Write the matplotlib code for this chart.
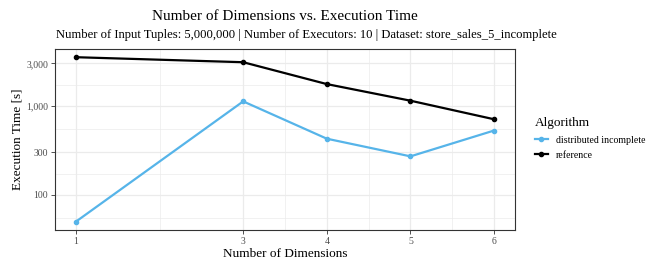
import matplotlib
matplotlib.use("Agg")
import matplotlib.pyplot as plt
from matplotlib.ticker import FixedLocator, NullFormatter
import numpy as np

plt.rcParams['font.family'] = ['Liberation Serif', 'DejaVu Serif']

# data
dims = [1, 3, 4, 5, 6]
reference = [3530, 3100, 1760, 1145, 708]
distributed_incomplete = [50, 1125, 428, 271, 529]

y_breaks = [100, 300, 1000, 3000]
y_labels = ["100", "300", "1,000", "3,000"]
y_minor = [10 ** 1.7386, 10 ** 2.2386, 10 ** 2.7386, 10 ** 3.2386, 10 ** 3.7386]
x_minor = [2, 3.5, 4.5, 5.5]

W, H = 656, 260
fig = plt.figure(figsize=(W / 100, H / 100), dpi=100)
ax = fig.add_axes([55 / W, 1 - 230 / H, 460 / W, 181 / H])

ax.set_yscale('log')
ax.set_xlim(0.75, 6.25)
ax.set_ylim(10 ** 1.605, 10 ** 3.64)

grid_col = '#EBEBEB'
ax.set_xticks(dims)
ax.set_xticklabels([str(d) for d in dims])
ax.xaxis.set_minor_locator(FixedLocator(x_minor))
ax.yaxis.set_major_locator(FixedLocator(y_breaks))
ax.yaxis.set_minor_locator(FixedLocator(y_minor))
ax.set_yticklabels(y_labels)
ax.yaxis.set_minor_formatter(NullFormatter())
ax.grid(which='major', color=grid_col, linewidth=0.9, zorder=0)
ax.grid(which='minor', color=grid_col, linewidth=0.5, zorder=0)
ax.set_axisbelow(True)

ax.plot(dims, distributed_incomplete, color='#56B4E9', linewidth=1.6,
        marker='o', markersize=3, label='distributed incomplete', zorder=3)
ax.plot(dims, reference, color='black', linewidth=1.6,
        marker='o', markersize=3, label='reference', zorder=3)

for s in ax.spines.values():
    s.set_color('#333333')
    s.set_linewidth(0.8)
ax.tick_params(which='major', length=3, width=0.6, color='#333333',
               labelsize=7, labelcolor='#4D4D4D', pad=2)
ax.tick_params(which='minor', length=0)

ax.set_xlabel('Number of Dimensions', fontsize=9.5, labelpad=1.5)
ax.set_ylabel('Execution Time [s]', fontsize=9.5)
ax.yaxis.set_label_coords(-0.069, 0.5)

fig.text(285 / W, 1 - 16 / H, 'Number of Dimensions vs. Execution Time',
         ha='center', va='center', fontsize=11)
fig.text(55.5 / W, 1 - 35 / H,
         'Number of Input Tuples: 5,000,000 | Number of Executors: 10 | '
         'Dataset: store_sales_5_incomplete',
         ha='left', va='center', fontsize=9.05)

leg = ax.legend(title='Algorithm', loc='upper left',
                bbox_to_anchor=(531 / W, 1 - 113.5 / H), bbox_transform=fig.transFigure,
                frameon=False, fontsize=7.1, title_fontsize=9.5,
                handlelength=1.3, handletextpad=0.8, labelspacing=0.62,
                borderaxespad=0)
leg._legend_box.align = 'left'

fig.savefig('out.png', dpi=100)
